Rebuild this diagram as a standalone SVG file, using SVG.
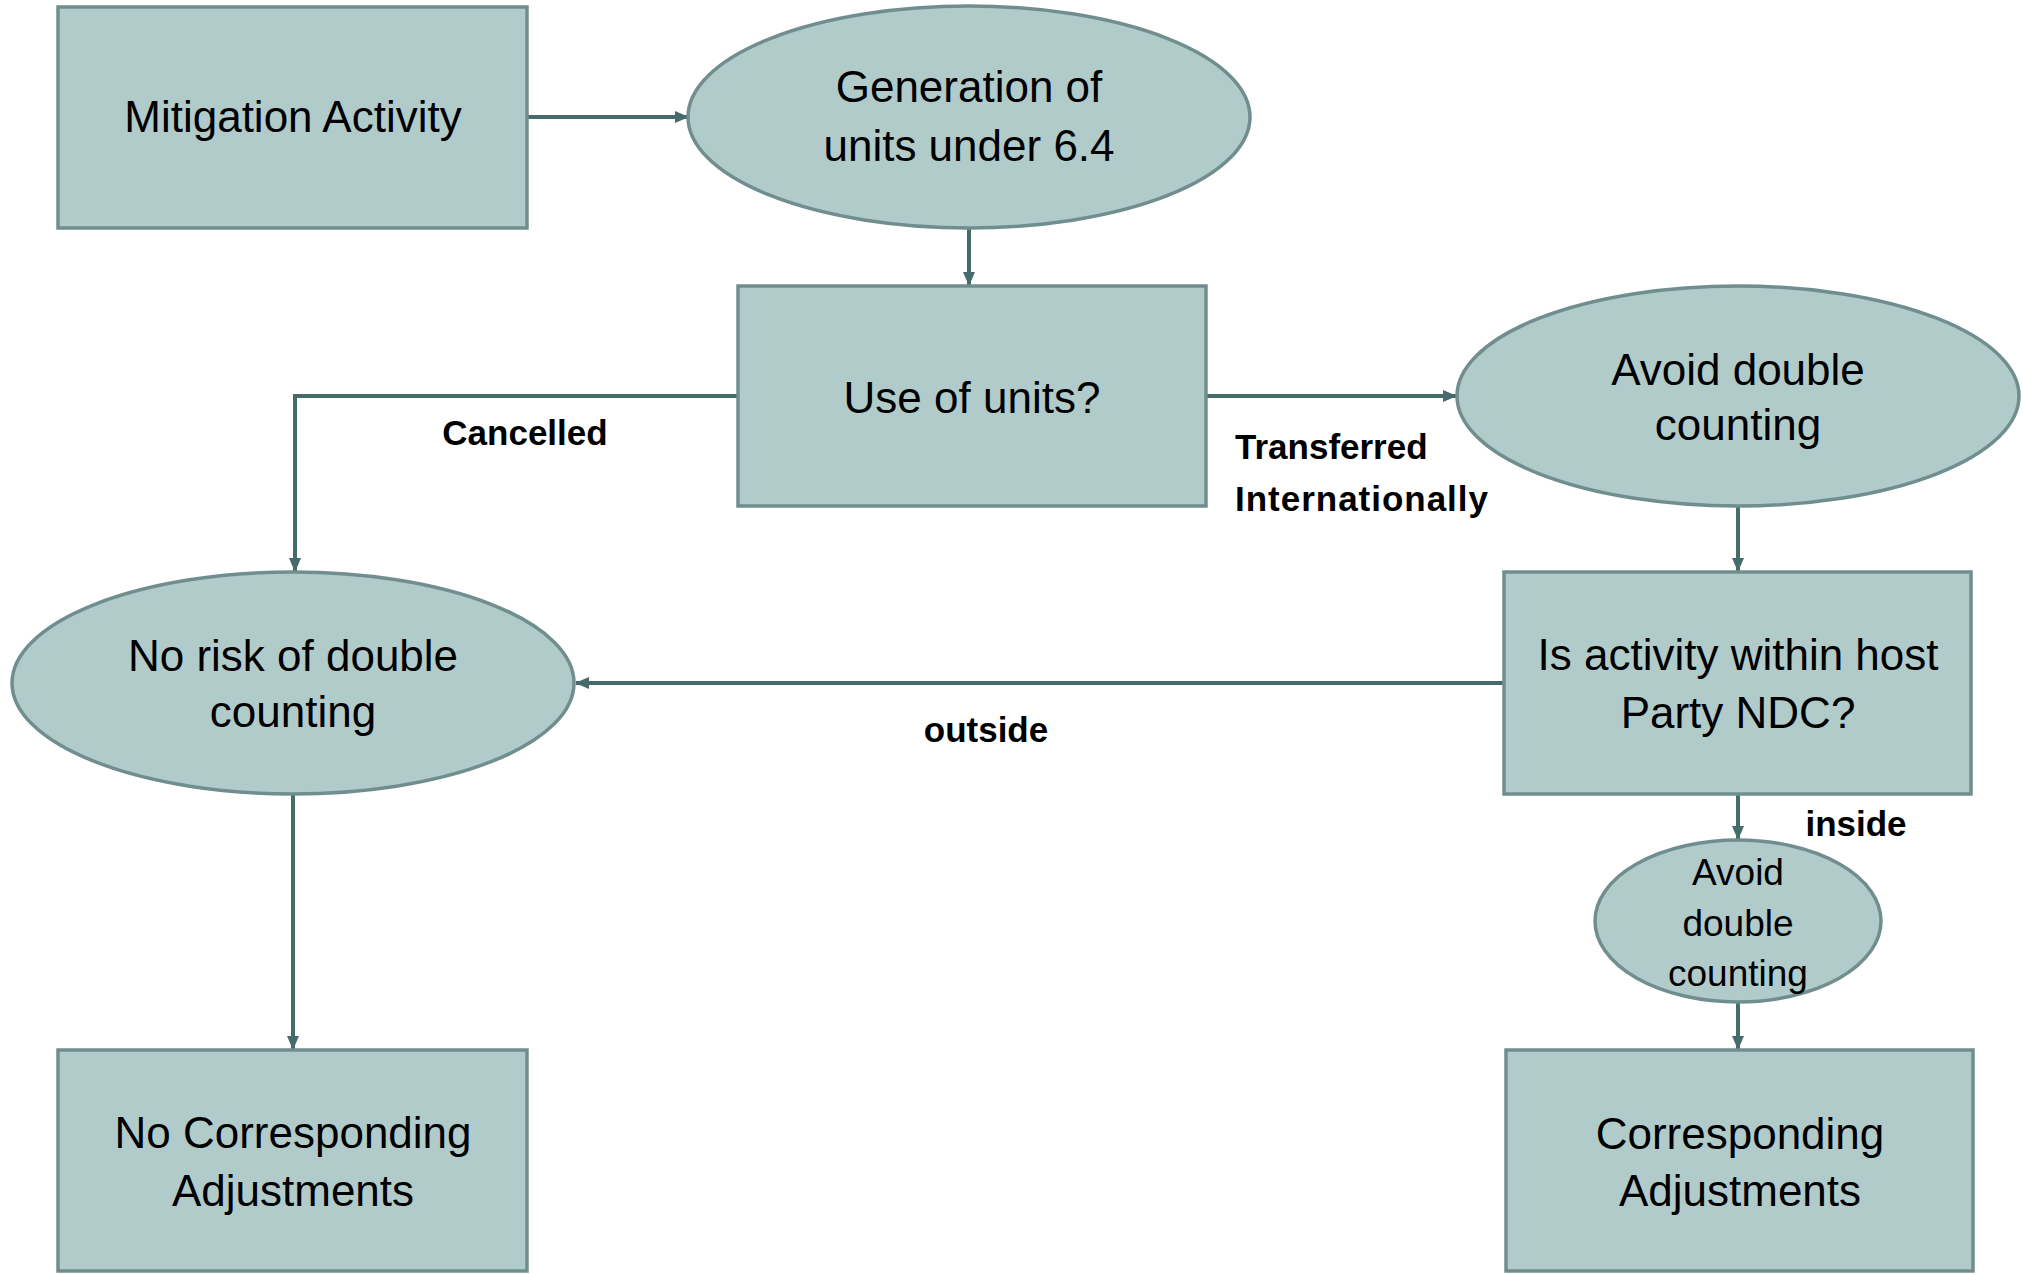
<svg xmlns="http://www.w3.org/2000/svg" width="2023" height="1275" viewBox="0 0 2023 1275">
<defs>
<marker id="arr" markerWidth="14" markerHeight="12" refX="13" refY="6" orient="auto" markerUnits="userSpaceOnUse">
<path d="M0,0 L14,6 L0,12 Z" fill="#466B6B"/>
</marker>
<style>
.node{fill:#B1CBCB;stroke:#718E8E;stroke-width:3.5}
.t{font-family:"Liberation Sans",Arial,sans-serif;font-size:44px;fill:#000;text-anchor:middle}
.s{font-family:"Liberation Sans",Arial,sans-serif;font-size:37px;fill:#000;text-anchor:middle}
.lbl{font-family:"Liberation Sans",Arial,sans-serif;font-size:35px;font-weight:bold;fill:#000}
.c{fill:none;stroke:#466B6B;stroke-width:4;marker-end:url(#arr)}
</style>
</defs>
<rect width="2023" height="1275" fill="#fff"/>
<g id="connectors">
<path class="c" d="M527,117 L688,117"/>
<path class="c" d="M969,228 L969,285"/>
<path class="c" d="M738,396 L295,396 L295,571"/>
<path class="c" d="M1206,396 L1456,396"/>
<path class="c" d="M1738,507 L1738,571"/>
<path class="c" d="M1504,683 L576,683"/>
<path class="c" d="M293,794 L293,1049"/>
<path class="c" d="M1738,794 L1738,839"/>
<path class="c" d="M1738,1002 L1738,1049"/>
</g>
<g id="labels">
<text class="lbl" x="525" y="445" text-anchor="middle">Cancelled</text>
<text class="lbl" x="1235" y="459">Transferred</text>
<text class="lbl" x="1235" y="511" textLength="253">Internationally</text>
<text class="lbl" x="986" y="742" text-anchor="middle">outside</text>
<text class="lbl" x="1856" y="836" text-anchor="middle">inside</text>
</g>
<g id="mitigation">
<rect class="node" x="58" y="7" width="469" height="221"/>
<text class="t" x="293" y="132">Mitigation Activity</text>
</g>
<g id="generation">
<ellipse class="node" cx="969" cy="117" rx="281" ry="111"/>
<text class="t" x="969" y="102">Generation of</text>
<text class="t" x="969" y="161">units under 6.4</text>
</g>
<g id="use">
<rect class="node" x="738" y="286" width="468" height="220"/>
<text class="t" x="972" y="413">Use of units?</text>
</g>
<g id="avoid1">
<ellipse class="node" cx="1738" cy="396" rx="281" ry="110"/>
<text class="t" x="1738" y="385">Avoid double</text>
<text class="t" x="1738" y="440">counting</text>
</g>
<g id="isactivity">
<rect class="node" x="1504" y="572" width="467" height="222"/>
<text class="t" x="1738" y="670">Is activity within host</text>
<text class="t" x="1738" y="728">Party NDC?</text>
</g>
<g id="norisk">
<ellipse class="node" cx="293" cy="683" rx="281" ry="111"/>
<text class="t" x="293" y="671">No risk of double</text>
<text class="t" x="293" y="727">counting</text>
</g>
<g id="avoid2">
<ellipse class="node" cx="1738" cy="921" rx="143" ry="81"/>
<text class="s" x="1738" y="885">Avoid</text>
<text class="s" x="1738" y="936">double</text>
<text class="s" x="1738" y="986">counting</text>
</g>
<g id="nocorr">
<rect class="node" x="58" y="1050" width="469" height="221"/>
<text class="t" x="293" y="1148">No Corresponding</text>
<text class="t" x="293" y="1206">Adjustments</text>
</g>
<g id="corr">
<rect class="node" x="1506" y="1050" width="467" height="221"/>
<text class="t" x="1740" y="1149">Corresponding</text>
<text class="t" x="1740" y="1206">Adjustments</text>
</g>
</svg>
